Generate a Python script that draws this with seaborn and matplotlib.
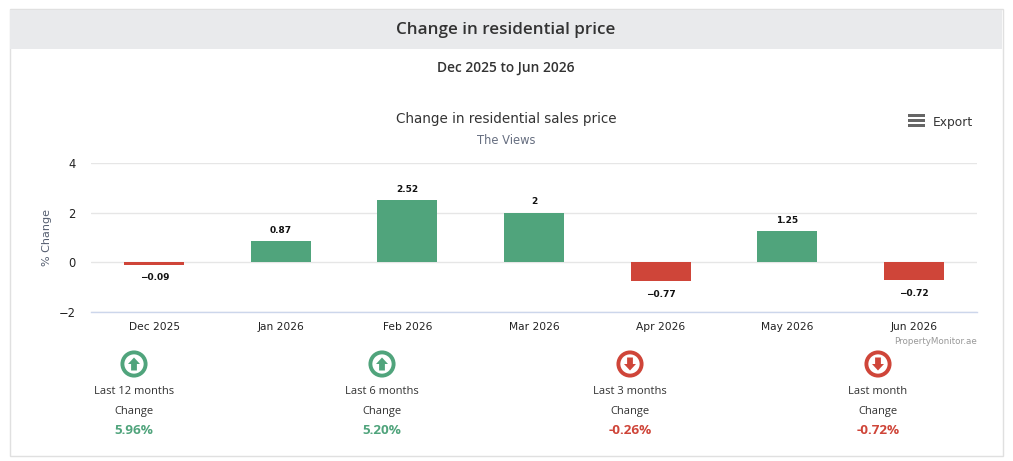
import matplotlib
matplotlib.use("Agg")
import matplotlib.pyplot as plt
from matplotlib.patches import Rectangle, Circle, Polygon
import seaborn as sns
import pandas as pd

months = ["Dec 2025", "Jan 2026", "Feb 2026", "Mar 2026", "Apr 2026", "May 2026", "Jun 2026"]
changes = [-0.09, 0.87, 2.52, 2.0, -0.77, 1.25, -0.72]
bar_labels = ["−0.09", "0.87", "2.52", "2", "−0.77", "1.25", "−0.72"]
y_ticks = [-2, 0, 2, 4]
y_tick_labels = ["−2", "0", "2", "4"]
periods = ["Last 12 months", "Last 6 months", "Last 3 months", "Last month"]
period_values = ["5.96%", "5.20%", "-0.26%", "-0.72%"]
period_up = [True, True, False, False]

GREEN = "#50a47c"
RED = "#cf4539"
W, H = 1013, 461

sns.set_theme(style="white")
plt.rcParams["font.family"] = ["DejaVu Sans"]
fig = plt.figure(figsize=(W / 100, H / 100), dpi=100, facecolor="white")

# pixel-space overlay
ov = fig.add_axes([0, 0, 1, 1], zorder=0)
ov.set_xlim(0, W); ov.set_ylim(H, 0); ov.axis("off")
ov.add_patch(Rectangle((9.5, 9.5), 993, 446.5, fc="white", ec="#e0e0e0", lw=1.0))
ov.add_patch(Rectangle((10, 10), 992, 39, fc="#e9eaec", ec="none"))
ov.text(506, 30, "Change in residential price", ha="center", va="center",
        fontsize=12.25, family="Open Sans", weight="semibold", color="#333333")
ov.text(506, 68, "Dec 2025 to Jun 2026", ha="center", va="center",
        fontsize=9.9, family="Open Sans", weight="semibold", color="#333333")
ov.text(506, 118.5, "Change in residential sales price", ha="center", va="center",
        fontsize=9.75, color="#333333")
ov.text(506, 140, "The Views", ha="center", va="center", fontsize=8.3, color="#666e80")

# export button
for y in (115.4, 120.5, 125.6):
    ov.add_patch(Rectangle((908, y - 1.3), 17, 2.6, fc="#666666", ec="none"))
ov.text(933, 122, "Export", ha="left", va="center", fontsize=8.8, color="#333333")
ov.text(977, 341, "PropertyMonitor.ae", ha="right", va="center", fontsize=6.3, color="#999999")

# main chart
left, right, top, bottom = 91, 977, 163, 312
ax = fig.add_axes([left / W, 1 - bottom / H, (right - left) / W, (bottom - top) / H], zorder=1)
ax.patch.set_alpha(0)
df = pd.DataFrame({"month": months, "change": changes,
                   "sign": ["up" if v >= 0 else "down" for v in changes]})
sns.barplot(data=df, x="month", y="change", hue="sign", order=months, dodge=False,
            palette={"up": GREEN, "down": RED}, width=0.475, legend=False, ax=ax,
            saturation=1, zorder=3, linewidth=0)
ax.set_xlim(-0.5, len(months) - 0.5)
ax.set_ylim(-2, 4)
ax.set_yticks(y_ticks)
ax.set_yticklabels(y_tick_labels, fontsize=8.3, color="#222222")
ax.tick_params(axis="y", length=0, pad=11.3)
ax.tick_params(axis="x", length=0, pad=7.5, labelsize=7.7, labelcolor="#222222")
ax.set_xlabel("")
ax.set_ylabel("% Change", fontsize=8.0, color="#555e70", labelpad=0)
ax.yaxis.set_label_coords((52 - left) / (right - left), 0.5)
ax.grid(axis="y", color="#e6e6e6", lw=1, zorder=0)
ax.grid(axis="x", visible=False)
for s in ("top", "left", "right"):
    ax.spines[s].set_visible(False)
ax.spines["bottom"].set_color("#ccd6eb")
ax.spines["bottom"].set_linewidth(1)
for i, (v, lab) in enumerate(zip(changes, bar_labels)):
    ax.annotate(lab, (i, v), xytext=(0, 7.7 if v >= 0 else -9.3), textcoords="offset points",
                ha="center", va="center", fontsize=6.5, weight="bold", color="#111111")

# summary block
centers = [134, 382, 630, 878]
for cx, name, val, up in zip(centers, periods, period_values, period_up):
    c = GREEN if up else RED
    cy = 364
    ov.add_patch(Circle((cx, cy), 11.6, fc="white", ec=c, lw=2.8))
    s = 1 if up else -1
    ov.add_patch(Polygon([(cx, cy - 6.5 * s), (cx + 6, cy), (cx + 2.9, cy),
                          (cx + 2.9, cy + 6.5 * s), (cx - 2.9, cy + 6.5 * s),
                          (cx - 2.9, cy), (cx - 6, cy)], fc=c, ec="none"))
    ov.text(cx, 391, name, ha="center", va="center", fontsize=8.0, family="Open Sans", color="#333333")
    ov.text(cx, 411, "Change", ha="center", va="center", fontsize=8.0, family="Open Sans", color="#333333")
    ov.text(cx, 430.5, val, ha="center", va="center", fontsize=9.7, family="Open Sans",
            weight="bold", color=c)

fig.savefig("out.png", dpi=100)
